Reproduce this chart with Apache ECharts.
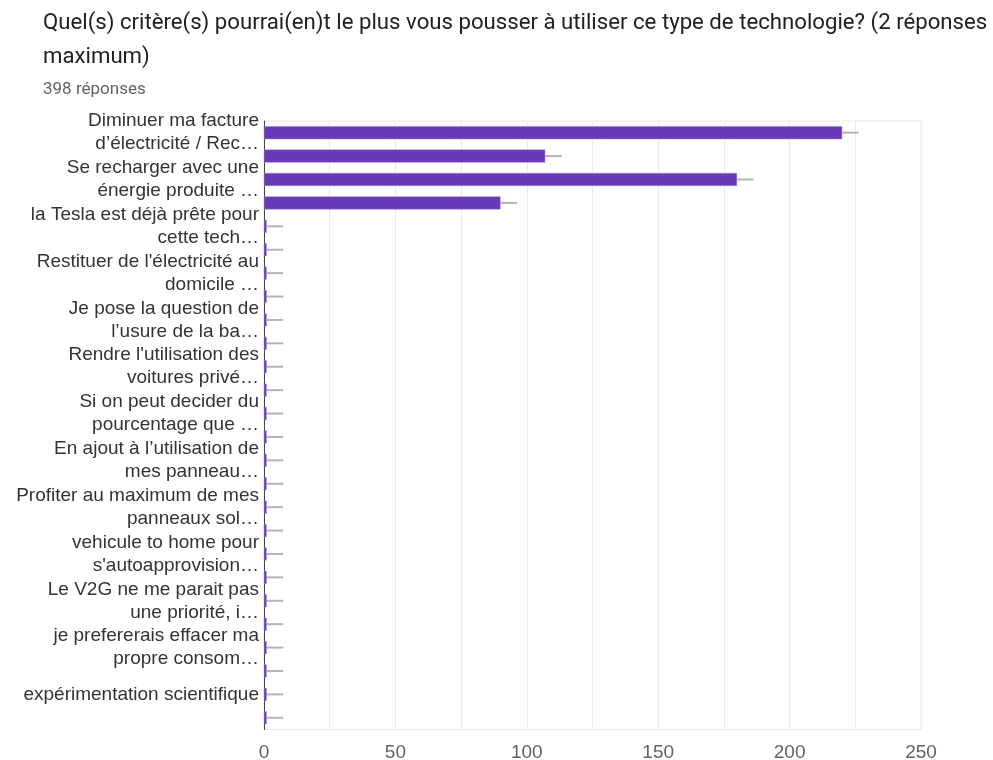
<!DOCTYPE html>
<html>
<head>
<meta charset="utf-8">
<script src="https://cdn.jsdelivr.net/npm/echarts@6/dist/echarts.min.js"></script>
<style>
  html, body { margin: 0; padding: 0; background: #ffffff; }
  #chart { width: 993px; height: 760px; }
</style>
</head>
<body>
<div id="chart"></div>
<script>
// Categories (top to bottom). Odd rows are answers whose label is not displayed in the reference.
const categories = [
  "Diminuer ma facture\nd’électricité / Rec…",
  "(réponse non affichée 1)",
  "Se recharger avec une\nénergie produite …",
  "(réponse non affichée 2)",
  "la Tesla est déjà prête pour\ncette tech…",
  "(réponse non affichée 3)",
  "Restituer de l'électricité au\ndomicile …",
  "(réponse non affichée 4)",
  "Je pose la question de\nl’usure de la ba…",
  "(réponse non affichée 5)",
  "Rendre l'utilisation des\nvoitures privé…",
  "(réponse non affichée 6)",
  "Si on peut decider du\npourcentage que …",
  "(réponse non affichée 7)",
  "En ajout à l’utilisation de\nmes panneau…",
  "(réponse non affichée 8)",
  "Profiter au maximum de mes\npanneaux sol…",
  "(réponse non affichée 9)",
  "vehicule to home pour\ns'autoapprovision…",
  "(réponse non affichée 10)",
  "Le V2G ne me parait pas\nune priorité, i…",
  "(réponse non affichée 11)",
  "je prefererais effacer ma\npropre consom…",
  "(réponse non affichée 12)",
  "expérimentation scientifique",
  "(réponse non affichée 13)"
];
const counts = [220, 107, 180, 90, 1, 1, 1, 1, 1, 1, 1, 1, 1, 1, 1, 1, 1, 1, 1, 1, 1, 1, 1, 1, 1, 1];
const whiskerLength = 6.3; // grey whisker drawn to the right of each bar, in axis units
const xTicks = [0, 50, 100, 150, 200, 250];
const titleText = "Quel(s) critère(s) pourrai(en)t le plus vous pousser à utiliser ce type de technologie? (2 réponses\nmaximum)";
const subtitleText = "398 réponses";

const chart = echarts.init(document.getElementById('chart'), null, { renderer: 'canvas' });

const option = {
  animation: false,
  backgroundColor: '#ffffff',
  title: [
    {
      text: titleText,
      left: 43, top: 6, padding: 0,
      textStyle: { fontFamily: 'Roboto', fontSize: 22.2, fontWeight: 'normal', color: '#202124', lineHeight: 34 }
    },
    {
      text: subtitleText,
      left: 43, top: 81, padding: 0,
      textStyle: { fontFamily: 'Roboto', fontSize: 17, fontWeight: 'normal', color: '#5f6368' }
    }
  ],
  grid: {
    left: 264, right: 72, top: 121, bottom: 30.5,
    outerBoundsMode: 'none', containLabel: false,
    show: true, borderColor: '#ebebeb', borderWidth: 1
  },
  xAxis: {
    type: 'value', min: 0, max: 250, interval: 25,
    axisLine: { show: false },
    axisTick: { show: false },
    splitLine: { show: true, lineStyle: { color: '#ebebeb', width: 1 } },
    axisLabel: {
      margin: 14, fontFamily: 'Liberation Sans', fontSize: 19, color: '#5f6368',
      formatter: v => (xTicks.indexOf(v) >= 0 ? String(v) : '')
    }
  },
  yAxis: {
    type: 'category', data: categories, inverse: true,
    axisLine: { show: true, lineStyle: { color: '#444444', width: 1 } },
    axisTick: { show: false },
    axisLabel: {
      interval: 1, margin: 5, fontFamily: 'Liberation Sans', fontSize: 19, color: '#333333',
      lineHeight: 23, align: 'right', showMinLabel: true, hideOverlap: false
    }
  },
  series: [
    {
      type: 'bar', data: counts, barWidth: 13,
      itemStyle: { color: '#673ab7', borderColor: '#9b7fd4', borderWidth: 0.5 },
      z: 3
    },
    {
      type: 'custom', z: 2,
      data: counts.map((v, i) => [v, i]),
      renderItem: (params, api) => {
        const v = api.value(0), c = api.value(1);
        const p1 = api.coord([v, c]);
        const p2 = api.coord([v + whiskerLength, c]);
        return {
          type: 'line',
          shape: { x1: p1[0], y1: p1[1], x2: p2[0], y2: p2[1] },
          style: { stroke: '#b4b4b4', lineWidth: 2 }
        };
      },
      encode: { x: 0, y: 1 }
    }
  ]
};
chart.setOption(option);
</script>
</body>
</html>
